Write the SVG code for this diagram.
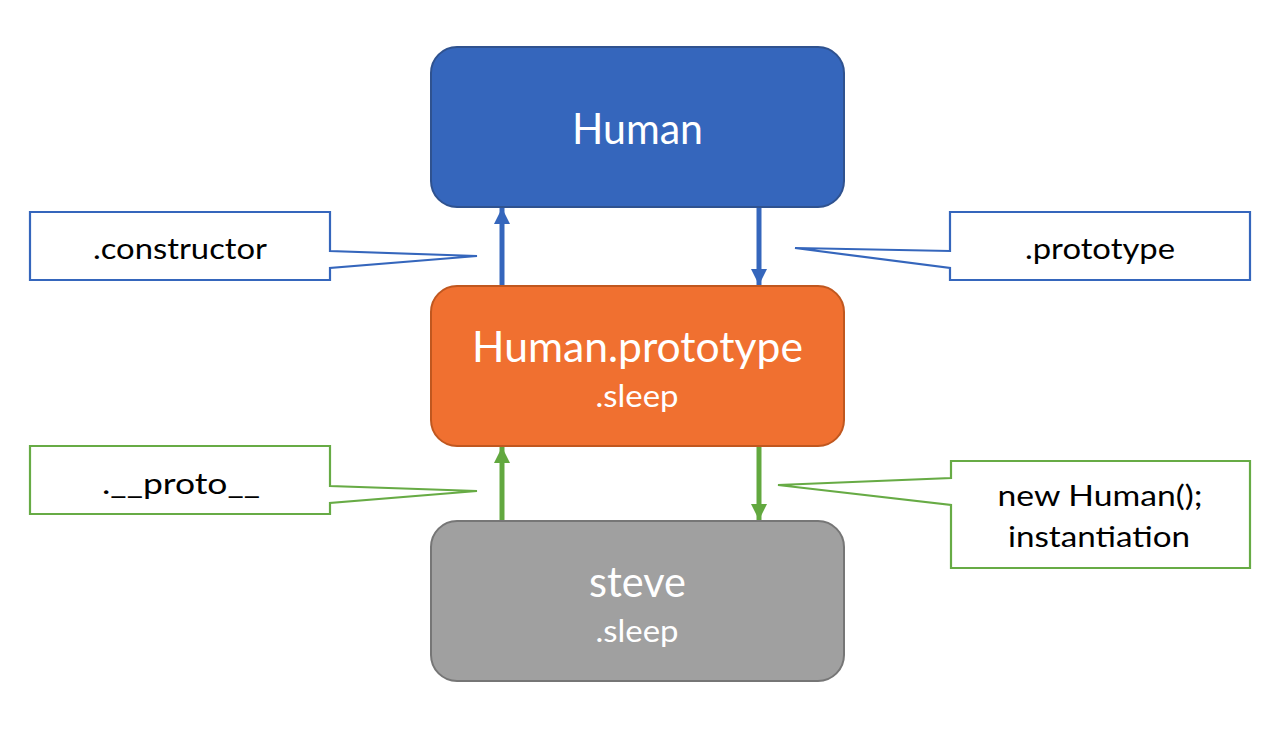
<svg xmlns="http://www.w3.org/2000/svg" width="1280" height="747" viewBox="0 0 1280 747">
<defs>
<marker id="ab" viewBox="0 0 16 16" markerWidth="16" markerHeight="16" refX="16" refY="8" orient="auto" markerUnits="userSpaceOnUse"><path d="M0,0 L16,8 L0,16 Z" fill="#3566BC"/></marker>
<marker id="ag" viewBox="0 0 16 16" markerWidth="16" markerHeight="16" refX="16" refY="8" orient="auto" markerUnits="userSpaceOnUse"><path d="M0,0 L16,8 L0,16 Z" fill="#62A83F"/></marker>
</defs>
<style>
text{font-family:Lato,"Open Sans","Liberation Sans",sans-serif;text-anchor:middle}
.big{font-size:42px;fill:#fff}
.small{font-size:31px;fill:#fff}
.lbl{font-size:28.5px;fill:#000}
.cb{fill:#fff;stroke:#3566BC;stroke-width:2.2}
.cg{fill:#fff;stroke:#67AB45;stroke-width:2.2}
.lb{stroke:#3566BC;stroke-width:5;fill:none}
.lg{stroke:#62A83F;stroke-width:5;fill:none}
</style>
<rect width="1280" height="747" fill="#fff"/>
<g id="connectors">
<line class="lb" x1="502" y1="286" x2="502" y2="208" marker-end="url(#ab)"/>
<line class="lb" x1="759" y1="207" x2="759" y2="285" marker-end="url(#ab)"/>
<line class="lg" x1="502" y1="521" x2="502" y2="447" marker-end="url(#ag)"/>
<line class="lg" x1="759" y1="446" x2="759" y2="520" marker-end="url(#ag)"/>
</g>
<g id="human">
<rect x="431" y="47" width="413" height="160" rx="26" fill="#3566BC" stroke="#2F528F" stroke-width="2"/>
<text class="big" x="637.5" y="144" textLength="131" lengthAdjust="spacingAndGlyphs">Human</text>
</g>
<g id="human-prototype">
<rect x="431" y="286" width="413" height="160" rx="26" fill="#F07030" stroke="#C0571F" stroke-width="2"/>
<text class="big" x="637.5" y="362" textLength="331" lengthAdjust="spacingAndGlyphs">Human.prototype</text>
<text class="small" x="637" y="407" textLength="83" lengthAdjust="spacingAndGlyphs">.sleep</text>
</g>
<g id="steve">
<rect x="431" y="521" width="413" height="160" rx="26" fill="#A0A0A0" stroke="#767676" stroke-width="2"/>
<text class="big" x="637.5" y="597" textLength="97" lengthAdjust="spacingAndGlyphs">steve</text>
<text class="small" x="637" y="642" textLength="83" lengthAdjust="spacingAndGlyphs">.sleep</text>
</g>
<g id="callout-constructor">
<path class="cb" d="M30,212 H330 V251 L477,256 L330,268 V280 H30 Z"/>
<text class="lbl" x="180" y="259" textLength="174" lengthAdjust="spacingAndGlyphs">.constructor</text>
</g>
<g id="callout-prototype">
<path class="cb" d="M950,212 H1250 V280 H950 V268 L795,248 L950,251 Z"/>
<text class="lbl" x="1100" y="259" textLength="150" lengthAdjust="spacingAndGlyphs">.prototype</text>
</g>
<g id="callout-proto">
<path class="cg" d="M30,446 H330 V486 L477,491 L330,503 V514 H30 Z"/>
<text class="lbl" x="181" y="494" textLength="158" lengthAdjust="spacingAndGlyphs">.__proto__</text>
</g>
<g id="callout-new">
<path class="cg" d="M951,461 H1250 V568 H951 V505 L778,485 L951,478 Z"/>
<text class="lbl" x="1100" y="506" textLength="205" lengthAdjust="spacingAndGlyphs">new Human();</text>
<text class="lbl" x="1099" y="547" textLength="182" lengthAdjust="spacingAndGlyphs">instantiation</text>
</g>
</svg>
